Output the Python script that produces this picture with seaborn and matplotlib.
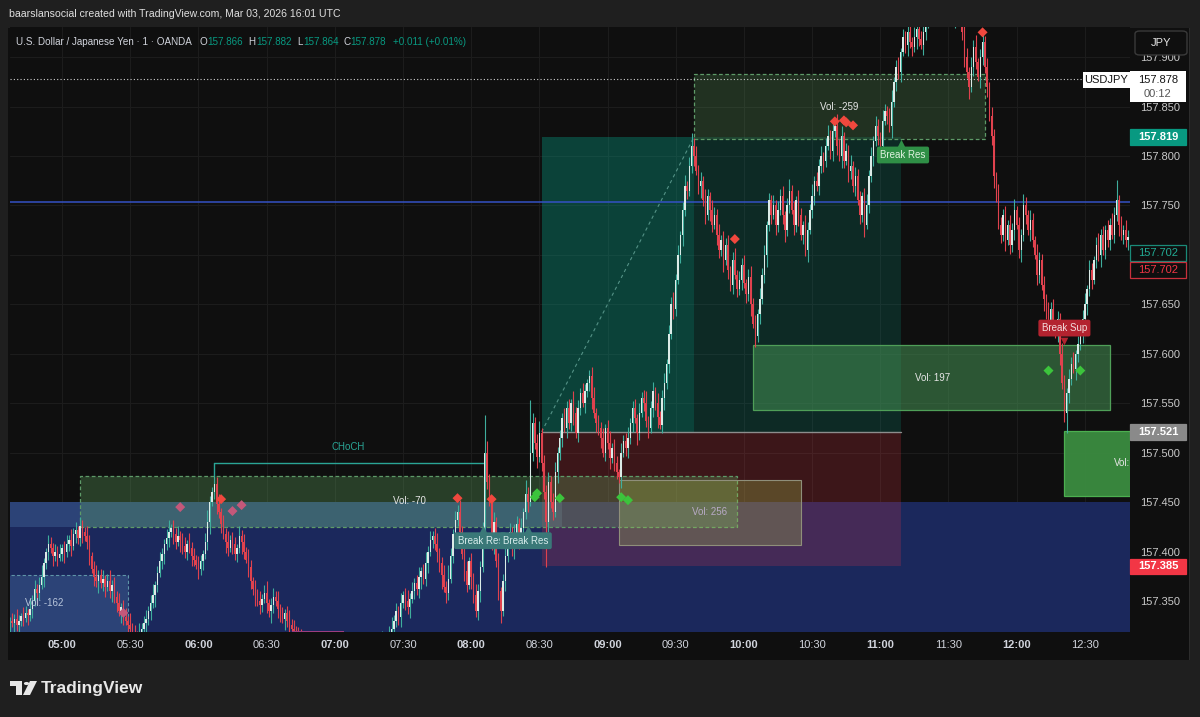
import matplotlib
matplotlib.use("Agg")
import numpy as np
import pandas as pd
import matplotlib.pyplot as plt
import matplotlib.patches as mpatches
import matplotlib.transforms as mtransforms
import seaborn as sns

# ------------------------------------------------------------------ data
BASE_PRICE = 157.300          # candle values are pipettes above this price
FIRST_BAR = "04:37"           # 1-minute bars
FIRST_OPEN = 26

closes = [
    30, 28, 32, 26, 30, 35, 33, 38, 36, 42, 50, 62, 58, 66, 74,
    88, 100, 108, 104, 96, 100, 94, 98, 104, 100, 108, 112, 106, 118, 122, 114, 126,
    120, 116, 110, 96, 82, 74,
    70, 76, 68, 72, 64, 70, 60, 66, 54, 48, 40, 44, 34, 30, 26, 22, 18, 16,
    14, 18, 22, 28, 32, 40, 48, 56, 66, 78, 90, 98, 108, 114, 120,
    124, 118, 110, 116, 112, 106, 100, 108, 104, 96, 92, 86, 82, 90, 98, 110,
    130, 150, 160, 168, 148, 140,
    128, 118, 110, 104, 112, 108, 98, 104, 116, 110, 100, 92,
    84, 70, 62, 56, 50, 46, 52, 58, 48, 40, 46, 54, 50, 42, 36, 32, 38, 30, 26, 22, 20, 16, 12,
    10, 6, 2, -4, -8, -12, -10, -16, -20, -18, -24, -28, -22, -26, -30, -34, -28, -24, -30, -26,
    -20, -24, -18, -14, -20, -16, -10, -14, -8, -4, -10, -6, 0, 4, -2, 6, 10, 4, 12, 16,
    22, 30, 40, 34, 48, 56, 50, 44, 52, 60, 68, 62, 74, 80, 72, 88, 100, 112,
    116, 108, 100, 88, 76, 64, 58, 72, 96, 118, 132, 140, 120, 98, 80, 66, 90, 74, 56, 40, 60, 84,
    120, 200, 170, 150, 110, 130, 90, 60, 40,
    70, 96, 110, 120, 104, 116, 128, 112, 124, 140, 158, 150,
    200, 230, 210, 196, 220, 190, 160, 130, 170, 150, 140, 180, 200,
    215, 235, 225, 245, 230, 250, 240, 220, 245, 260, 250, 262, 270, 278, 255, 240, 230, 225,
    215, 200, 225, 210, 195, 205, 190, 180, 175, 200, 212, 205,
    215, 230, 245, 235, 220, 240, 255, 250, 232, 225, 245, 262, 250, 236, 228, 255, 270,
    290, 320, 350, 345, 375, 400, 420, 445, 470, 465, 490, 510,
    500, 485, 470, 475, 455, 440, 460, 445, 430, 440, 420, 405, 415, 395, 410,
    385, 370, 395, 380, 365, 375, 390, 372, 360, 378, 350, 330, 318, 340,
    355, 380, 400, 430, 455, 440, 450, 430, 445, 460, 440, 425, 450, 465, 445, 430, 455, 440, 420, 430, 405, 425, 445,
    460, 475, 470, 490, 500, 495, 510, 520, 505, 525, 530, 510, 500, 520, 495, 505, 485, 490, 470, 480, 455, 440, 460, 430,
    450, 480, 500, 515, 530, 520, 510, 535, 545, 540, 530, 555, 575, 590, 585, 605,
    620, 612, 625, 615, 610, 620, 628, 618, 612, 625, 635, 645, 655, 660, 650, 665, 670, 660, 655, 650, 660, 645, 640, 650, 642, 638,
    625, 600, 585, 570, 590, 610, 595, 580, 600, 615, 590, 570, 540, 520, 480, 460, 430, 420,
    440, 415, 430, 410, 425, 445, 430, 405, 420, 450, 440, 425, 435, 415, 400, 380, 395, 370, 355, 340, 330, 345,
    330, 320, 335, 300, 270, 240, 260, 275, 290, 285, 300, 310, 320, 335,
    350, 365, 385, 375, 395, 410, 400, 420, 405, 425, 415, 430, 420, 440, 455, 430, 420, 425, 415, 418,
]

wick_up = [
    4, 8, 5, 10, 6, 3, 9, 7, 4, 11, 6, 9, 5, 8, 12, 6, 4, 9, 7, 5,
    8, 6, 10, 4, 7, 9, 5, 11, 6, 8, 4, 9, 6, 5, 10, 7, 4, 8, 12, 5,
    6, 9, 4, 7, 11, 5, 8, 6, 10, 4, 7, 9, 5, 12, 6, 8, 4, 10, 6, 7,
    9, 5, 8, 11, 4, 7, 10, 6, 5, 9, 12, 4, 8, 6, 10, 5, 7, 9, 4, 11,
    6, 8, 5, 10, 7, 4, 9, 12, 6, 5, 8, 7, 10, 4, 9, 6, 11, 5, 8, 7,
    4, 10, 6, 8, 5, 11, 7, 4, 9, 6, 10, 5, 8, 12, 4, 7, 9, 6, 10, 5,
    8, 4, 7, 11, 6, 9, 5, 8, 10, 4, 7, 6, 9, 12, 5, 8, 4, 10, 7, 6,
    9, 5, 11, 7, 4, 8, 10, 6, 5, 9, 7, 12, 4, 8, 6, 10, 5, 9, 7, 4,
    11, 6, 8, 5, 10, 7, 4, 9, 12, 6, 8, 5, 10, 4, 7, 11, 6, 9, 5, 8,
    10, 4, 7, 12, 6, 9, 5, 8, 11, 4, 7, 10, 6, 14, 8, 5, 9, 7, 12, 6,
    8, 10, 5, 9, 4, 11, 7, 6, 10, 38, 12, 8, 6, 10, 5, 9, 4, 7, 11, 6,
    9, 5, 12, 8, 6, 10, 4, 14, 7, 53, 10, 6, 9, 12, 5, 8, 7, 10, 6, 9,
    11, 6, 8, 5, 10, 7, 9, 4, 12, 6, 8, 5, 10, 7, 4, 6, 9, 11, 5, 8,
    6, 10, 4, 8, 12, 5, 9, 7, 4, 10, 6, 8, 11, 5, 7, 9, 4, 10, 6, 8,
    12, 5, 7, 9, 4, 10, 6, 8, 11, 5, 9, 7, 12, 6, 10, 4, 8, 11, 5, 9,
    13, 8, 10, 6, 9, 5, 12, 7, 4, 10, 8, 6, 11, 5, 9, 7, 10, 4, 8, 12,
    5, 9, 7, 10, 4, 8, 11, 6, 9, 5, 12, 7, 10, 4, 8, 6, 11, 5, 9, 7,
    10, 4, 8, 12, 6, 9, 5, 11, 7, 4, 10, 8, 6, 12, 5, 9, 7, 10, 4, 8,
    11, 6, 9, 5, 12, 7, 10, 4, 8, 6, 11, 5, 9, 7, 10, 4, 8, 12, 6, 9,
    5, 10, 7, 4, 11, 8, 6, 9, 12, 5, 7, 10, 4, 8, 6, 11, 9, 5, 10, 7,
    4, 8, 12, 6, 9, 5, 10, 7, 11, 4, 8, 6, 9, 12, 5, 10, 7, 4, 8, 11,
    6, 9, 5, 10, 7, 12, 4, 8, 11, 6, 9, 5, 10, 7, 4, 12, 8, 6, 9, 5,
    10, 7, 11, 4, 8, 6, 12, 9, 5, 10, 7, 4, 11, 8, 6, 9, 5, 12, 7, 10,
    4, 8, 6, 11, 9, 5, 10, 7, 12, 4, 8, 6, 9, 11, 5, 10, 7, 4, 8, 12,
    6, 9, 5, 10, 7, 12, 8, 21, 6, 9, 5, 10, 7,
]

wick_dn = [
    7, 4, 9, 6, 11, 5, 8, 4, 10, 6, 9, 5, 12, 7, 4, 10, 6, 8, 5, 11,
    6, 9, 4, 8, 12, 5, 7, 10, 4, 9, 6, 8, 11, 5, 7, 10, 4, 9, 6, 12,
    5, 8, 10, 4, 7, 11, 6, 9, 5, 12, 8, 4, 10, 7, 6, 9, 11, 5, 8, 4,
    10, 6, 9, 5, 12, 7, 4, 8, 11, 6, 9, 5, 10, 7, 4, 12, 8, 6, 9, 5,
    11, 7, 4, 10, 6, 9, 5, 8, 12, 4, 7, 10, 6, 9, 5, 11, 8, 4, 10, 6,
    9, 5, 12, 7, 4, 10, 8, 6, 11, 5, 9, 7, 4, 10, 6, 12, 8, 5, 9, 7,
    4, 11, 6, 8, 10, 5, 9, 7, 12, 4, 8, 6, 10, 5, 9, 11, 7, 4, 8, 6,
    10, 5, 9, 7, 12, 4, 8, 6, 11, 5, 9, 7, 4, 10, 8, 6, 12, 5, 9, 7,
    6, 10, 4, 8, 11, 5, 9, 7, 4, 12, 6, 8, 10, 5, 9, 7, 11, 4, 8, 6,
    9, 12, 5, 7, 10, 4, 8, 6, 11, 9, 14, 5, 10, 7, 4, 8, 12, 6, 9, 5,
    10, 7, 4, 12, 8, 6, 9, 11, 5, 10, 7, 4, 8, 12, 6, 9, 12, 5, 10, 7,
    4, 8, 11, 6, 9, 5, 12, 7, 10, 4, 8, 6, 11, 5, 9, 7, 46, 10, 6, 8,
    5, 11, 7, 9, 4, 10, 6, 8, 12, 5, 9, 7, 4, 10, 6, 8, 11, 5, 9, 7,
    10, 4, 8, 6, 12, 5, 9, 7, 6, 11, 4, 8, 10, 6, 9, 5, 12, 7, 4, 8,
    6, 10, 5, 9, 7, 11, 4, 8, 12, 6, 9, 5, 10, 7, 4, 8, 11, 6, 9, 5,
    7, 10, 4, 8, 12, 6, 9, 5, 11, 7, 4, 10, 8, 6, 12, 5, 9, 7, 10, 4,
    8, 6, 11, 5, 9, 7, 12, 4, 11, 6, 10, 5, 8, 12, 6, 9, 4, 10, 7, 5,
    9, 12, 6, 8, 4, 10, 7, 11, 5, 9, 6, 12, 4, 8, 10, 5, 9, 7, 11, 6,
    4, 8, 10, 6, 9, 5, 12, 7, 4, 11, 8, 6, 10, 5, 9, 7, 12, 4, 8, 6,
    10, 5, 9, 7, 11, 4, 8, 6, 12, 5, 9, 7, 10, 4, 8, 11, 6, 9, 5, 12,
    7, 4, 10, 8, 6, 11, 5, 9, 7, 12, 4, 8, 6, 10, 5, 9, 11, 7, 4, 8,
    10, 6, 12, 5, 9, 7, 4, 11, 8, 6, 10, 5, 9, 12, 7, 4, 8, 6, 11, 5,
    9, 7, 10, 4, 8, 12, 6, 9, 5, 11, 7, 4, 10, 8, 6, 12, 5, 9, 7, 10,
    4, 8, 11, 6, 9, 20, 10, 7, 4, 12, 8, 6, 9, 5, 11, 7, 10, 4, 8, 6,
    12, 5, 9, 7, 10, 4, 8, 6, 11, 5, 9, 7, 10,
]

time_ticks = ["05:00", "05:30", "06:00", "06:30", "07:00", "07:30", "08:00", "08:30",
              "09:00", "09:30", "10:00", "10:30", "11:00", "11:30", "12:00", "12:30"]
price_ticks = [157.35, 157.40, 157.45, 157.50, 157.55, 157.60, 157.65,
               157.70, 157.75, 157.80, 157.85, 157.90]
hidden_price_ticks = [157.70]   # covered by the 157.702 tags in the reference

# signal markers
red_t = ["06:10", "07:54", "08:09", "09:56", "10:40", "10:44", "10:45", "10:48", "11:45"]
red_p = [157.453, 157.454, 157.453, 157.716, 157.835, 157.836, 157.834, 157.831, 157.925]
pink_t = ["05:52", "06:15", "06:19", "05:27"]
pink_p = [157.445, 157.441, 157.447, 157.338]
green_t = ["08:28", "08:29", "08:39", "09:06", "09:09", "12:14", "12:28"]
green_p = [157.455, 157.459, 157.454, 157.455, 157.452, 157.583, 157.583]

# levels / zones
last_price = 157.878
blue_level = 157.753
pos_entry_t, pos_end_t, pos_fill_t = "08:31", "11:09", "09:38"
pos_target, pos_entry, pos_stop = 157.819, 157.521, 157.385
choch_t = ["06:07", "08:06"]
choch_p = [157.490, 157.476]

# ------------------------------------------------------------------ helpers
def tm(s):
    h, m = s.split(":")
    return int(h) * 60 + int(m)

W, H = 1200, 717
def fx(x):
    return x / W
def fy(y):
    return 1 - y / H

# ------------------------------------------------------------------ style
sns.set_theme(style="dark", rc={
    "axes.facecolor": "#0f0f0f",
    "figure.facecolor": "#1f1f1f",
    "axes.grid": True,
    "grid.color": "#1c1c1c",
    "grid.linewidth": 0.8,
})
plt.rcParams["font.family"] = ["Liberation Sans", "DejaVu Sans"]

fig = plt.figure(figsize=(12, 7.17), dpi=100)
ax = fig.add_axes([fx(10), fy(632), (1130 - 10) / W, (632 - 27) / H])
for s in ax.spines.values():
    s.set_visible(False)

# chart pane background
fig.add_artist(mpatches.Rectangle((fx(8), fy(660)), fx(1190 - 8), (660 - 28) / H,
                                  transform=fig.transFigure, facecolor="#0f0f0f",
                                  edgecolor="none", zorder=-1))
fig.add_artist(mpatches.Rectangle((fx(1189), fy(660)), fx(1.2), (660 - 28) / H,
                                  transform=fig.transFigure, facecolor="#2c2c2c",
                                  edgecolor="none", zorder=-0.5))

XMIN, XMAX = 277.12, 769.86
YMIN, YMAX = 157.3187, 157.9304
ax.set_xlim(XMIN, XMAX)
ax.set_ylim(YMIN, YMAX)

# ------------------------------------------------------------------ zones
def rect(t0, t1, p0, p1, **kw):
    ax.add_patch(mpatches.Rectangle((t0, p0), t1 - t0, p1 - p0, **kw))

# navy zone
rect(XMIN - 5, XMAX + 5, 157.20, 157.450, facecolor="#1b285c", edgecolor="none", zorder=0.6)
# light band
rect(XMIN - 5, tm("08:40"), 157.425, 157.450, facecolor=(0.42, 0.65, 0.85, 0.22),
     edgecolor="none", zorder=0.7)
# left box Vol -162
rect(XMIN - 5, tm("05:29"), 157.20, 157.376, facecolor=(0.42, 0.65, 0.85, 0.22),
     edgecolor="#5f95a8", linestyle=(0, (3, 2)), linewidth=0.8, zorder=0.7)
# position tool
rect(tm(pos_entry_t), tm(pos_end_t), pos_entry, pos_target,
     facecolor=(8 / 255, 153 / 255, 129 / 255, 0.2), edgecolor="none", zorder=0.8)
rect(tm(pos_entry_t), tm(pos_fill_t), pos_entry, pos_target,
     facecolor=(8 / 255, 153 / 255, 129 / 255, 0.22), edgecolor="none", zorder=0.81)
rect(tm(pos_entry_t), tm(pos_end_t), pos_stop, pos_entry,
     facecolor=(242 / 255, 54 / 255, 69 / 255, 0.2), edgecolor="none", zorder=0.8)
# dashed green box (Vol -70)
rect(tm("05:08"), tm("09:57"), 157.425, 157.476, facecolor=(0.39, 0.67, 0.39, 0.3),
     edgecolor="#5e9a68", linestyle=(0, (3, 2)), linewidth=0.9, zorder=0.9)
# top dashed box (Vol -259)
rect(tm("09:38"), tm("11:46"), 157.817, 157.883, facecolor=(0.39, 0.67, 0.39, 0.22),
     edgecolor="#5e9a68", linestyle=(0, (3, 2)), linewidth=0.9, zorder=0.9)
# Vol 256 box
rect(tm("09:05"), tm("10:25"), 157.407, 157.472, facecolor=(0.67, 0.78, 0.31, 0.28),
     edgecolor="#8f8f7a", linewidth=0.8, zorder=0.95)
# Vol 197 box
rect(tm("10:04"), tm("12:41"), 157.543, 157.609, facecolor=(0.27, 0.57, 0.33, 0.55),
     edgecolor="#4f9f58", linewidth=0.9, zorder=0.95)
# right green box
rect(tm("12:21"), XMAX + 5, 157.456, 157.522, facecolor=(0.23, 0.55, 0.25, 0.95),
     edgecolor="#4caf50", linewidth=0.9, zorder=0.95)

# ------------------------------------------------------------------ lines
ax.axhline(blue_level, color="#3451c4", lw=1.1, zorder=2)
ax.axhline(last_price, color="#cfcfcf", lw=0.8, ls=(0, (1, 2)), zorder=2)
ax.plot([tm(pos_entry_t), tm(pos_end_t)], [pos_entry, pos_entry], color="#8d8d8d", lw=1, zorder=2)
ax.plot([tm(pos_entry_t), tm(pos_fill_t)], [pos_entry, pos_target], color="#8fd3c5",
        alpha=0.55, lw=0.8, ls=(0, (3, 3)), zorder=2)
ax.plot([tm(choch_t[0]), tm(choch_t[1])], [choch_p[0], choch_p[0]], color="#2aa596", lw=1, zorder=2)
ax.plot([tm(choch_t[0]), tm(choch_t[0])], [choch_p[0], choch_p[1]], color="#2aa596", lw=1, zorder=2)

# ------------------------------------------------------------------ candles
n = min(len(closes), len(wick_up), len(wick_dn))
t = tm(FIRST_BAR) + np.arange(n)
c = BASE_PRICE + np.array(closes[:n]) / 1000
o = np.concatenate([[BASE_PRICE + FIRST_OPEN / 1000], c[:-1]])
hi = np.maximum(o, c) + np.array(wick_up[:n]) / 1000
lo = np.minimum(o, c) - np.array(wick_dn[:n]) / 1000
is_up = c >= o
UP_BODY, UP_WICK, DN = "#dcebe7", "#3fae9d", "#e0424e"
ax.vlines(t, lo, hi, colors=np.where(is_up, UP_WICK, DN), lw=0.8, zorder=3)
ax.bar(t, np.maximum(np.abs(c - o), 0.0008), bottom=np.minimum(o, c), width=0.62,
       color=np.where(is_up, UP_BODY, DN), linewidth=0, zorder=3.1)

# ------------------------------------------------------------------ markers
mk = pd.DataFrame({
    "t": [tm(s) for s in red_t + pink_t + green_t],
    "p": red_p + pink_p + green_p,
    "kind": ["red"] * len(red_t) + ["pink"] * len(pink_t) + ["green"] * len(green_t),
})
sns.scatterplot(data=mk, x="t", y="p", hue="kind",
                palette={"red": "#f0483e", "pink": "#c4587a", "green": "#3cc43c"},
                marker="D", s=26, linewidth=0, legend=False, ax=ax, zorder=5)
ax.set_xlabel("")
ax.set_ylabel("")

# ------------------------------------------------------------------ labels in chart
def lbl(tt, p, s, color="#e6e6e6", fs=7, ha="center", **kw):
    ax.text(tm(tt), p, s, color=color, fontsize=fs, ha=ha, va="center", zorder=6,
            clip_on=True, **kw)

lbl("04:52", 157.348, "Vol: -162", color="#b9c6dc")
lbl("07:33", 157.451, "Vol: -70")
lbl("10:42", 157.850, "Vol: -259")
lbl("11:23", 157.576, "Vol: 197")
lbl("09:45", 157.440, "Vol: 256", color="#b8aac6")
lbl("12:43", 157.490, "Vol:", ha="left")
lbl("07:06", 157.506, "CHoCH", color="#2aa596")

def tag(tt, p, s, face, tcolor, tri_t, tri_p, tri_m):
    ax.scatter([tm(tri_t)], [tri_p], marker=tri_m, s=30, color=face, linewidth=0, zorder=6.5)
    ax.text(tm(tt), p, s, color=tcolor, fontsize=7, ha="center", va="center", zorder=7,
            clip_on=True, bbox=dict(boxstyle="round,pad=0.35,rounding_size=0.2",
                                    facecolor=face, edgecolor="none"))

tag("11:10", 157.801, "Break Res", "#2f8f46", "#e0f2e0", "11:09", 157.813, "^")
tag("08:04", 157.411, "Break Res", "#3a7878", "#d6ecec", "08:05", 157.423, "^")
tag("08:24", 157.411, "Break Res", "#3a7878", "#d6ecec", "08:25", 157.423, "^")
tag("12:21", 157.626, "Break Sup", "#b3232f", "#f4dede", "12:21", 157.613, "v")
rect(tm("06:41"), tm("07:04"), 157.300, 157.3195, facecolor="#9c3d7f", edgecolor="none", zorder=6)

# ------------------------------------------------------------------ axes ticks
ax.set_xticks([tm(s) for s in time_ticks])
ax.set_xticklabels(time_ticks)
for lab in ax.get_xticklabels():
    lab.set_fontweight("bold" if lab.get_text().endswith(":00") else "normal")
ax.tick_params(axis="x", length=0, pad=6, labelsize=8, labelcolor="#d1d4dc")
ax.yaxis.tick_right()
ax.set_yticks(price_ticks)
ax.set_yticklabels(["" if p in hidden_price_ticks else f"{p:.3f}" for p in price_ticks])
ax.tick_params(axis="y", length=0, pad=7, labelsize=8, labelcolor="#c8c8c8")
ax.grid(True, color="#1c1c1c", lw=0.8)

# ------------------------------------------------------------------ price tags (right scale)
tr = mtransforms.blended_transform_factory(ax.transAxes, ax.transData)
TAG_H = 0.0158
TAG_X0, TAG_W = 1.0, 0.05

def ptag(p, s, face, edge, tcolor, weight="normal"):
    ax.add_patch(mpatches.Rectangle((TAG_X0, p - TAG_H / 2), TAG_W, TAG_H, transform=tr,
                                    facecolor=face, edgecolor=edge, linewidth=0.9,
                                    clip_on=False, zorder=8))
    ax.text(TAG_X0 + TAG_W / 2, p, s, transform=tr, color=tcolor, fontsize=8,
            ha="center", va="center", clip_on=False, zorder=9, fontweight=weight)

# last price with countdown
ax.add_patch(mpatches.Rectangle((TAG_X0, last_price - 0.0232), TAG_W, 0.0315, transform=tr,
                                facecolor="#ffffff", edgecolor="none", clip_on=False, zorder=8))
ax.text(TAG_X0 + TAG_W / 2, last_price - 0.0012, f"{last_price:.3f}", transform=tr,
        color="#131313", fontsize=8, ha="center", va="center", clip_on=False, zorder=9)
ax.text(TAG_X0 + TAG_W / 2, last_price - 0.0155, "00:12", transform=tr,
        color="#555555", fontsize=8, ha="center", va="center", clip_on=False, zorder=9)
ax.add_patch(mpatches.Rectangle((0.958, last_price - 0.0088), 0.042, 0.0162, transform=tr,
                                facecolor="#ffffff", edgecolor="none", clip_on=False, zorder=8))
ax.text(0.979, last_price - 0.0007, "USDJPY", transform=tr, color="#131313", fontsize=8,
        ha="center", va="center", clip_on=False, zorder=9)

ptag(pos_target, f"{pos_target:.3f}", "#089981", "#089981", "#ffffff", "bold")
ptag(157.702, "157.702", "#0f0f0f", "#1a8a78", "#22ab94")
ptag(157.702 - 0.0174, "157.702", "#0f0f0f", "#c8303c", "#f23645")
ptag(pos_entry, f"{pos_entry:.3f}", "#8a8a8a", "#8a8a8a", "#ffffff", "bold")
ptag(pos_stop, f"{pos_stop:.3f}", "#f23645", "#f23645", "#ffffff", "bold")

# JPY button
fig.add_artist(mpatches.FancyBboxPatch((fx(1135), fy(55)), fx(52), 24 / H,
                                       boxstyle="round,pad=0,rounding_size=0.004",
                                       transform=fig.transFigure, facecolor="#0f0f0f",
                                       edgecolor="#3a3a3a", linewidth=1, zorder=10))
fig.text(fx(1161), fy(43), "JPY", color="#e6e6e6", fontsize=8, ha="center", va="center", zorder=11)

# ------------------------------------------------------------------ header / title
fig.add_artist(mpatches.Rectangle((0, fy(27)), 1, 27 / H, transform=fig.transFigure,
                                  facecolor="#1f1f1f", edgecolor="none", zorder=9))
fig.text(fx(9), fy(14), "baarslansocial created with TradingView.com, Mar 03, 2026 16:01 UTC",
         color="#e0e0e0", fontsize=7.6, ha="left", va="center", zorder=10)
LBL, VAL = "#d1d4dc", "#089981"
title_parts = [
    (16, "U.S. Dollar / Japanese Yen · 1 · OANDA", LBL),
    (199, "O", LBL), (207, "157.866", VAL),
    (248, "H", LBL), (256, "157.882", VAL),
    (297, "L", LBL), (303, "157.864", VAL),
    (343, "C", LBL), (350, "157.878", VAL),
    (393, "+0.011 (+0.01%)", VAL),
]
for x, s, col in title_parts:
    fig.text(fx(x), fy(42), s, color=col, fontsize=7.1, ha="left", va="center", zorder=10)

# ------------------------------------------------------------------ TradingView logo
logo_col = "#e8e8e8"
fig.add_artist(mpatches.Rectangle((fx(10), fy(686)), fx(12), 5 / H, transform=fig.transFigure,
                                  facecolor=logo_col, edgecolor="none", zorder=10))
fig.add_artist(mpatches.Rectangle((fx(16), fy(695)), fx(6), 14 / H, transform=fig.transFigure,
                                  facecolor=logo_col, edgecolor="none", zorder=10))
fig.add_artist(mpatches.Circle((fx(26.5), fy(683.5)), 2.6 / W, transform=fig.transFigure,
                               facecolor=logo_col, edgecolor="none", zorder=10))
fig.add_artist(mpatches.Polygon([(fx(30), fy(681)), (fx(37), fy(681)), (fx(30), fy(695)),
                                 (fx(23), fy(695))], closed=True, transform=fig.transFigure,
                                facecolor=logo_col, edgecolor="none", zorder=10))
fig.text(fx(41), fy(688), "TradingView", color=logo_col, fontsize=12.5, fontweight="bold",
         ha="left", va="center", zorder=10)

fig.savefig("out.png", dpi=100, facecolor=fig.get_facecolor())
